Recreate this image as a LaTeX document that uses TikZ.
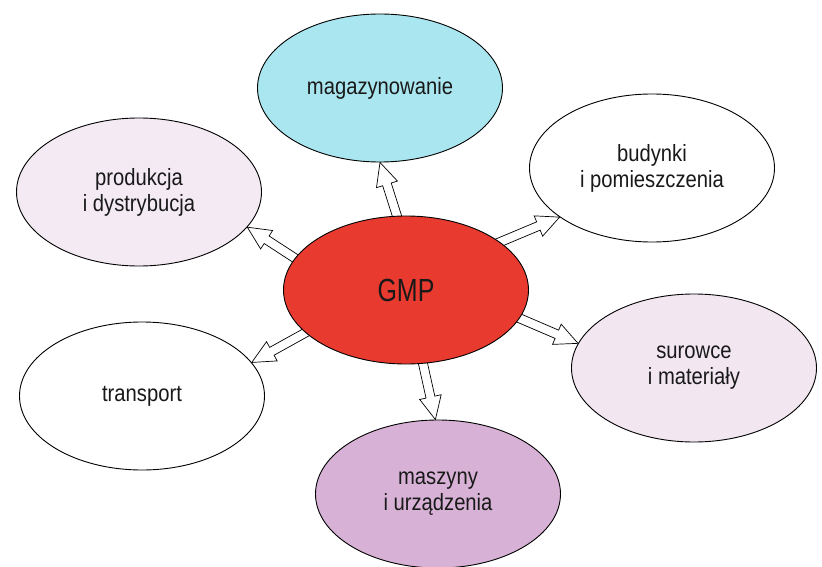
\documentclass[tikz,border=0pt]{standalone}
\usepackage{fontspec}
\setmainfont{Liberation Sans}[FakeStretch=0.86]
\newfontfamily\gmpfont{Liberation Sans}[FakeStretch=0.78]
\usetikzlibrary{shapes.geometric,calc,backgrounds}
\definecolor{gmpred}{HTML}{E83A2E}
\definecolor{cyanfill}{HTML}{AAE6EF}
\definecolor{lavfill}{HTML}{F4EAF4}
\definecolor{lavfillb}{HTML}{F2E6F1}
\definecolor{purfill}{HTML}{D8B2D6}
\tikzset{
  topic/.style={ellipse, draw=black, line width=0.9pt, minimum width=245pt,
    minimum height=148pt, inner sep=0pt, align=center,
    font=\fontsize{23.5}{26}\selectfont, text=black!90},
  harrowstyle/.style={draw=black, line width=0.7pt, fill=white, line join=miter}
}
\newcommand\harrow[2]{%
  \coordinate (he) at (#2);
  \coordinate (hs) at ($(#1)!-8pt!(he)$);
  \coordinate (hb) at ($(he)!23pt!(hs)$);
  \draw[harrowstyle] ($(hs)!4.5pt!90:(he)$) -- ($(hb)!4.5pt!90:(he)$)
    -- ($(hb)!11pt!90:(he)$) -- (he) -- ($(hb)!11pt!-90:(he)$)
    -- ($(hb)!4.5pt!-90:(he)$) -- ($(hs)!4.5pt!-90:(he)$) -- cycle;
}
\begin{document}
\begin{tikzpicture}[x=1pt,y=-1pt]
\useasboundingbox (0,0) rectangle (822,567);
\node[topic, fill=cyanfill] (mag) at (380,88) {magazynowanie};
\node[topic, fill=lavfill] (prod) at (139,192) {produkcja\\i dystrybucja};
\node[topic, fill=white] (bud) at (652,168) {budynki\\i pomieszczenia};
\node[topic, fill=white] (tr) at (142,396) {transport};
\node[topic, fill=lavfillb] (sur) at (694,368) {surowce\\i materiały};
\node[topic, fill=purfill] (masz) at (438,494) {maszyny\\i urządzenia};
\node[topic, fill=gmpred, font=\gmpfont\fontsize{32}{34}\selectfont] (GMP) at (406,290) {GMP};
\begin{scope}[on background layer]
\harrow{GMP.97}{mag.270}
\harrow{GMP.164}{prod.-18}
\harrow{GMP.27}{bud.208}
\harrow{GMP.-14}{sur.168}
\harrow{GMP.203}{tr.17}
\harrow{GMP.-77}{masz.92}
\end{scope}
\end{tikzpicture}
\end{document}
